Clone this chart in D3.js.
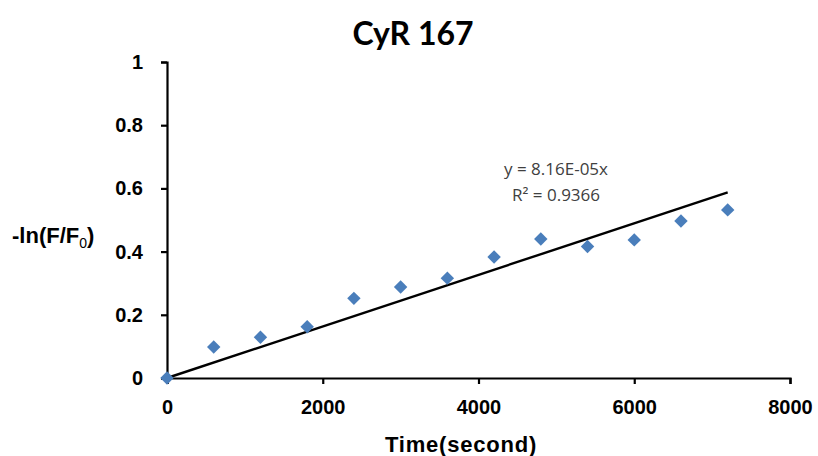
<!DOCTYPE html>
<html><head><meta charset="utf-8">
<script src="https://cdn.jsdelivr.net/npm/d3@7"></script>
<style>body{margin:0;background:#fff}svg{display:block}</style>
</head><body><svg id="c" width="818" height="456"></svg>
<script>
const times = [0,600,1200,1800,2400,3000,3600,4200,4800,5400,6000,6600,7200];
const values = [0,0.098,0.129,0.162,0.252,0.288,0.316,0.383,0.44,0.416,0.437,0.497,0.532];
const slope = 8.16e-5;
const xTicks = [0,2000,4000,6000,8000];
const yTicks = [0,0.2,0.4,0.6,0.8,1];
const titleText = "CyR 167";
const eqText = "y = 8.16E-05x";
const r2Text = "R² = 0.9366";

const svg = d3.select("#c");
const x = d3.scaleLinear().domain([0,8000]).range([167,790]);
const y = d3.scaleLinear().domain([0,1]).range([378,62]);
const tickFont = "Liberation Sans, Arial, sans-serif";

svg.append("g").attr("transform","translate(0,378)")
  .call(d3.axisBottom(x).tickValues(xTicks).tickSize(6).tickPadding(16).tickFormat(d3.format("d")))
  .call(g=>{g.select(".domain").attr("stroke","#000").attr("stroke-width",2.2);
    g.selectAll(".tick line").attr("stroke","#000").attr("stroke-width",2.2);
    g.selectAll("text").attr("font-family",tickFont).attr("font-weight","bold").attr("font-size",20).attr("fill","#000").attr("dy","0.7em");});
svg.append("g").attr("transform","translate(167,0)")
  .call(d3.axisLeft(y).tickValues(yTicks).tickSize(6).tickPadding(18).tickFormat(d=>d===0||d===1?String(d):d3.format(".1f")(d)))
  .call(g=>{g.select(".domain").attr("stroke","#000").attr("stroke-width",2.2);
    g.selectAll(".tick line").attr("stroke","#000").attr("stroke-width",2.2);
    g.selectAll("text").attr("font-family",tickFont).attr("font-weight","bold").attr("font-size",20).attr("fill","#000");});

// trendline
svg.append("line")
  .attr("x1",x(0)).attr("y1",y(0))
  .attr("x2",x(times[times.length-1])).attr("y2",y(slope*times[times.length-1]))
  .attr("stroke","#000").attr("stroke-width",2.4);

// diamonds
svg.append("g").selectAll("path").data(times.map((t,i)=>[t,values[i]])).enter()
  .append("path")
  .attr("d",d3.symbol().type(d3.symbolDiamond2).size(115))
  .attr("transform",d=>`translate(${x(d[0])},${y(d[1])})`)
  .attr("fill","#4a7ebb");

// title
svg.append("text").attr("x",413).attr("y",45).attr("text-anchor","middle")
  .attr("font-family","Lato, 'Open Sans', sans-serif").attr("font-weight","bold").attr("font-size",32).text(titleText);

// equation
svg.append("text").attr("x",556).attr("y",175).attr("text-anchor","middle")
  .attr("font-family","'Open Sans', sans-serif").attr("font-size",17).attr("fill","#404040").text(eqText);
svg.append("text").attr("x",556).attr("y",201).attr("text-anchor","middle")
  .attr("font-family","'Open Sans', sans-serif").attr("font-size",17).attr("fill","#404040").text(r2Text);

// y label
const yl = svg.append("text").attr("x",12).attr("y",243)
  .attr("font-family",tickFont).attr("font-weight","bold").attr("font-size",22);
yl.append("tspan").text("-ln(F/F");
yl.append("tspan").attr("font-size",14).attr("font-weight","normal").attr("dy",5).text("0");
yl.append("tspan").attr("dy",-5).text(")");

// x label
svg.append("text").attr("x",461).attr("y",452).attr("text-anchor","middle")
  .attr("font-family",tickFont).attr("font-weight","bold").attr("font-size",22).attr("letter-spacing",0.8).text("Time(second)");
</script></body></html>
